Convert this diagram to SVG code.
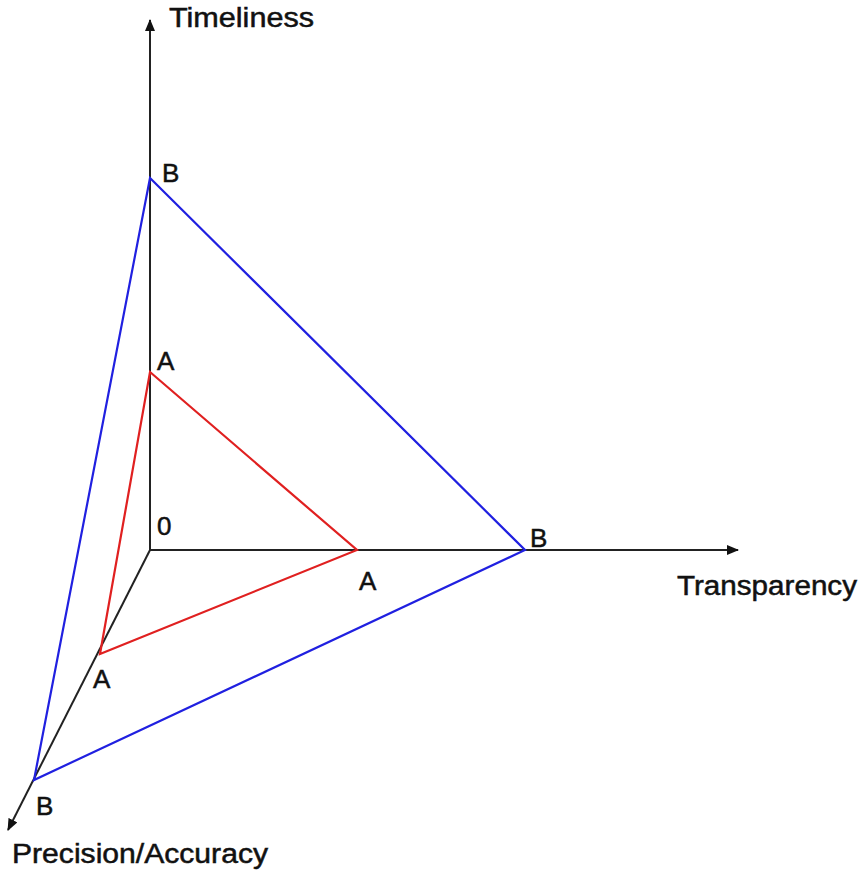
<svg xmlns="http://www.w3.org/2000/svg" width="862" height="873" viewBox="0 0 862 873">
<style>
.ax{stroke:#222;stroke-width:2;fill:none}
.a{stroke:#e02020;stroke-width:2.2;fill:none}
.b{stroke:#2020e0;stroke-width:2.2;fill:none}
text{font-family:"Liberation Sans",Arial,sans-serif;fill:#111;stroke:#111;stroke-width:0.5}
.lbl{font-size:26px}
.ttl{font-size:27px}
</style>
<defs>
<marker id="arr" viewBox="0 0 12 10" refX="11" refY="5" markerWidth="12" markerHeight="10" markerUnits="userSpaceOnUse" orient="auto">
<path d="M0,0 L12,5 L0,10 z" fill="#111"/>
</marker>
</defs>
<rect width="862" height="873" fill="#fff"/>
<g id="connectors">
<line class="ax" x1="150" y1="550" x2="150" y2="20" marker-end="url(#arr)"/>
<line class="ax" x1="150" y1="550" x2="738" y2="550" marker-end="url(#arr)"/>
<line class="ax" x1="150" y1="550" x2="8" y2="830" marker-end="url(#arr)"/>
<polygon id="triA" class="a" points="150,372 357,550 100,654"/>
<polygon id="triB" class="b" points="150,178 525,550 34,780"/>
</g>
<g id="axis-timeliness"><text class="ttl" x="169" y="27" textLength="145" lengthAdjust="spacingAndGlyphs">Timeliness</text></g>
<g id="axis-transparency"><text class="ttl" x="677" y="595" textLength="180" lengthAdjust="spacingAndGlyphs">Transparency</text></g>
<g id="axis-precision"><text class="ttl" x="12" y="863" textLength="256" lengthAdjust="spacingAndGlyphs">Precision/Accuracy</text></g>
<g id="origin"><text class="lbl" x="157" y="535">0</text></g>
<g id="label-B-top"><text class="lbl" x="162" y="182">B</text></g>
<g id="label-A-top"><text class="lbl" x="157" y="370">A</text></g>
<g id="label-A-right"><text class="lbl" x="359" y="590">A</text></g>
<g id="label-B-right"><text class="lbl" x="530" y="547">B</text></g>
<g id="label-A-bottom"><text class="lbl" x="93" y="688">A</text></g>
<g id="label-B-bottom"><text class="lbl" x="36" y="815">B</text></g>
</svg>
